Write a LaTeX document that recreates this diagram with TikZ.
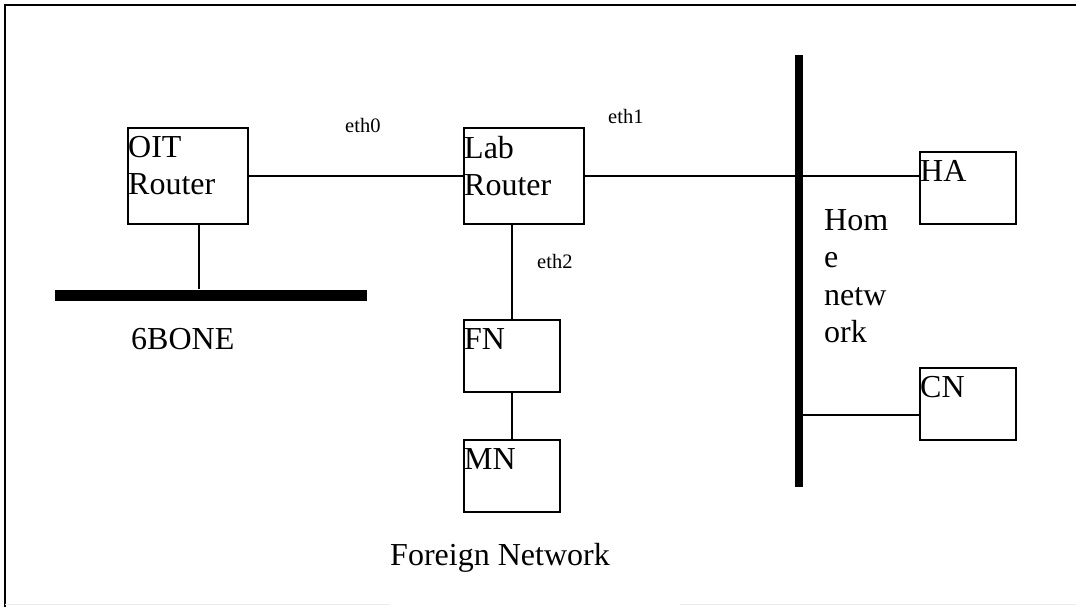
\documentclass[tikz,border=0pt]{standalone}
\usepackage{fontspec}
\setmainfont{Liberation Serif}
\begin{document}
\begin{tikzpicture}[x=1pt,y=-1pt,
  box/.style={draw, line width=1.8pt, inner sep=0pt, anchor=north west},
  boxtext/.style={anchor=north west, inner sep=0pt, align=left,
                  font=\fontsize{32}{37.5}\selectfont},
  bigtext/.style={inner sep=0pt, font=\fontsize{32}{37.5}\selectfont},
  iface/.style={anchor=base west, inner sep=0pt, font=\fontsize{20.5}{24}\selectfont},
  wire/.style={line width=1.8pt},
  bus/.style={fill=black, draw=none, inner sep=0pt}]
\useasboundingbox (0,0) rectangle (1076,607);

% frame
\draw[line width=2pt] (5,607) -- (5,5) -- (1076,5);
\draw[black!8, line width=1pt] (5,604.5) -- (390,604.5) (680,604.5) -- (1076,604.5);

% network segments
\node[bus, minimum width=312pt, minimum height=11pt, anchor=west] (bone) at (55,295) {};
\node[bus, minimum width=8pt, minimum height=432pt, anchor=north] (homebus) at (799,55) {};

% hosts and routers
\node[box, minimum width=120pt, minimum height=96pt] (oit) at (127,127) {};
\node[box, minimum width=120pt, minimum height=96pt] (lab) at (463,127) {};
\node[box, minimum width=96pt, minimum height=72pt] (fn) at (463,319) {};
\node[box, minimum width=96pt, minimum height=72pt] (mn) at (463,439) {};
\node[box, minimum width=96pt, minimum height=72pt] (ha) at (919,151) {};
\node[box, minimum width=96pt, minimum height=72pt] (cn) at (919,367) {};

\node[boxtext] (oitlbl) at ([shift={(1,9)}]oit.north west) {OIT\\Router};
\node[boxtext] (lablbl) at ([shift={(1,9)}]lab.north west) {Lab\\Router};
\node[boxtext] (fnlbl) at ([shift={(1,9)}]fn.north west) {FN};
\node[boxtext] (mnlbl) at ([shift={(1,9)}]mn.north west) {MN};
\node[boxtext] (halbl) at ([shift={(1,9)}]ha.north west) {HA};
\node[boxtext] (cnlbl) at ([shift={(1,9)}]cn.north west) {CN};

% links
\coordinate (bonetap) at (199,295);
\coordinate (cntap) at (799,415);
\draw[wire] (oit.east) -- (lab.west);
\draw[wire] (lab.east) -- (lab.east -| ha.west);
\draw[wire] (oit.south -| bonetap) -- (bonetap |- bone.north);
\draw[wire] (fn.north) -- (fn.north |- lab.south);
\draw[wire] (fn.south) -- (mn.north);
\draw[wire] (cntap) -- (cntap -| cn.west);

% interface names
\node[iface] (eth0) at (345,132) {eth0};
\node[iface] (eth1) at (608,124) {eth1};
\node[iface] (eth2) at (537,268) {eth2};

% network names
\node[bigtext, anchor=base west] (bonelbl) at (131,349) {6BONE};
\node[bigtext, anchor=base] (foreignlbl) at (500,565) {Foreign Network};
\node[boxtext] (homelbl) at (824,209) {Hom\\e\\netw\\ork};
\end{tikzpicture}
\end{document}
